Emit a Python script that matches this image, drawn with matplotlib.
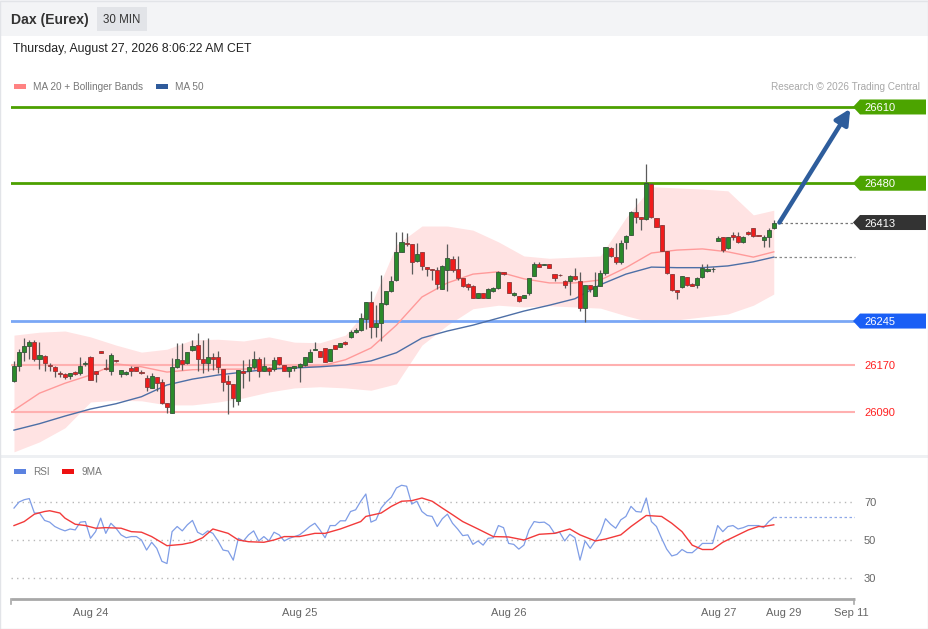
import matplotlib
matplotlib.use('Agg')
import matplotlib.pyplot as plt
from matplotlib.patches import Rectangle, Polygon
from matplotlib.transforms import blended_transform_factory
import numpy as np

plt.rcParams['font.family'] = ['Liberation Sans', 'DejaVu Sans']

# ---------------- data ----------------
opens = [26142, 26169, 26192, 26203, 26210, 26181, 26186, 26170, 26167, 26156,
         26154, 26152, 26158, 26157, 26171, 26184, 26159, 26194, 26165, 26160,
         26179, 26154, 26154, 26165, 26167, 26157, 26148, 26131, 26150, 26141,
         26105, 26089, 26166, 26178, 26173, 26196, 26205, 26180, 26173, 26183,
         26183, 26163, 26142, 26137, 26109, 26160, 26159, 26167, 26181, 26160,
         26165, 26163, 26183, 26170, 26160, 26165, 26166, 26170, 26175, 26196,
         26194, 26199, 26177, 26205, 26201, 26210, 26217, 26227, 26230, 26248,
         26277, 26235, 26241, 26274, 26296, 26315, 26363, 26377, 26376, 26347,
         26362, 26338, 26333, 26332, 26300, 26332, 26351, 26334, 26318, 26308,
         26305, 26285, 26292, 26285, 26296, 26301, 26328, 26311, 26290, 26288,
         26285, 26293, 26322, 26342, 26341, 26342, 26325, 26324, 26314, 26313,
         26321, 26313, 26267, 26306, 26288, 26305, 26327, 26369, 26355, 26346,
         26379, 26392, 26431, 26422, 26419, 26479, 26420, 26409, 26365, 26326,
         26298, 26303, 26320, 26309, 26306, 26320, 26331, 26333, 26382, 26388,
         26369, 26392, 26390, 26379, 26397, 26403, 26392, 26383, 26388, 26403]
highs = [26177, 26197, 26216, 26213, 26212, 26210, 26187, 26173, 26168, 26160,
         26156, 26156, 26159, 26183, 26177, 26186, 26160, 26194, 26180, 26190,
         26179, 26161, 26159, 26169, 26167, 26161, 26153, 26156, 26150, 26147,
         26105, 26182, 26207, 26207, 26192, 26213, 26224, 26213, 26216, 26190,
         26194, 26163, 26153, 26137, 26162, 26179, 26181, 26194, 26183, 26184,
         26167, 26184, 26183, 26170, 26166, 26169, 26173, 26184, 26197, 26209,
         26194, 26199, 26197, 26205, 26208, 26211, 26230, 26233, 26258, 26277,
         26296, 26272, 26324, 26296, 26321, 26397, 26397, 26395, 26377, 26378,
         26362, 26338, 26334, 26338, 26340, 26376, 26356, 26356, 26318, 26310,
         26306, 26293, 26293, 26301, 26303, 26330, 26329, 26311, 26294, 26288,
         26290, 26319, 26345, 26345, 26342, 26343, 26325, 26325, 26315, 26324,
         26335, 26329, 26307, 26306, 26329, 26332, 26371, 26371, 26378, 26383,
         26392, 26432, 26454, 26422, 26513, 26481, 26421, 26409, 26365, 26326,
         26298, 26322, 26320, 26310, 26320, 26342, 26343, 26337, 26390, 26388,
         26389, 26397, 26396, 26390, 26398, 26403, 26392, 26391, 26403, 26418]
lows = [26141, 26159, 26177, 26180, 26177, 26164, 26159, 26159, 26150, 26150,
        26146, 26146, 26153, 26153, 26169, 26144, 26141, 26190, 26162, 26153,
        26175, 26150, 26153, 26152, 26160, 26154, 26126, 26130, 26125, 26103,
        26088, 26088, 26165, 26162, 26171, 26194, 26159, 26156, 26159, 26162,
        26156, 26125, 26086, 26099, 26102, 26130, 26142, 26164, 26150, 26159,
        26153, 26159, 26170, 26159, 26150, 26160, 26141, 26169, 26175, 26196,
        26183, 26175, 26177, 26197, 26200, 26205, 26216, 26224, 26228, 26231,
        26216, 26218, 26211, 26272, 26295, 26314, 26363, 26373, 26325, 26346,
        26332, 26321, 26315, 26300, 26299, 26296, 26329, 26315, 26303, 26298,
        26284, 26284, 26284, 26284, 26295, 26300, 26324, 26292, 26287, 26278,
        26285, 26290, 26322, 26338, 26341, 26335, 26313, 26322, 26302, 26290,
        26315, 26262, 26244, 26295, 26287, 26304, 26324, 26355, 26343, 26343,
        26367, 26391, 26412, 26400, 26417, 26420, 26405, 26364, 26326, 26297,
        26282, 26301, 26305, 26304, 26301, 26318, 26329, 26329, 26382, 26362,
        26368, 26383, 26378, 26378, 26392, 26389, 26390, 26371, 26371, 26402]
closes = [26169, 26193, 26203, 26210, 26180, 26187, 26173, 26169, 26160, 26155,
          26150, 26156, 26154, 26169, 26173, 26145, 26154, 26190, 26164, 26187,
          26177, 26161, 26158, 26160, 26160, 26156, 26133, 26152, 26139, 26106,
          26099, 26167, 26180, 26171, 26192, 26203, 26180, 26173, 26183, 26181,
          26166, 26141, 26137, 26113, 26162, 26156, 26167, 26180, 26160, 26169,
          26160, 26179, 26171, 26160, 26166, 26169, 26171, 26184, 26192, 26197,
          26183, 26175, 26197, 26197, 26207, 26206, 26227, 26230, 26250, 26277,
          26235, 26241, 26275, 26296, 26313, 26362, 26380, 26376, 26345, 26360,
          26339, 26334, 26332, 26309, 26339, 26352, 26332, 26318, 26304, 26303,
          26285, 26292, 26285, 26300, 26301, 26329, 26325, 26293, 26292, 26279,
          26290, 26318, 26342, 26338, 26342, 26335, 26319, 26323, 26306, 26321,
          26317, 26267, 26307, 26299, 26305, 26327, 26371, 26356, 26346, 26378,
          26390, 26431, 26422, 26419, 26481, 26422, 26406, 26365, 26327, 26298,
          26295, 26321, 26307, 26305, 26318, 26335, 26333, 26334, 26386, 26366,
          26388, 26388, 26379, 26389, 26393, 26390, 26390, 26388, 26401, 26413]

# indicator lines read at every 5th bar
ind_idx = [0, 5, 10, 15, 20, 25, 30, 35, 40, 45, 50, 55, 60, 65, 70, 75, 80, 85,
           90, 95, 100, 105, 110, 115, 120, 125, 130, 135, 140, 145, 149]
bb_upper = [26221, 26226, 26228, 26218, 26204, 26192, 26197, 26213, 26214, 26211,
            26218, 26209, 26208, 26221, 26272, 26375, 26407, 26407, 26400, 26380,
            26356, 26352, 26354, 26356, 26421, 26474, 26472, 26470, 26467, 26426, 26434]
bb_lower = [26022, 26039, 26063, 26107, 26110, 26109, 26102, 26102, 26107, 26114,
            26124, 26131, 26133, 26131, 26127, 26138, 26204, 26238, 26266, 26272,
            26269, 26271, 26269, 26267, 26254, 26243, 26247, 26252, 26257, 26272, 26291]
ma20 = [26093, 26122, 26139, 26153, 26172, 26167, 26158, 26162, 26163, 26163,
        26165, 26167, 26168, 26179, 26199, 26238, 26286, 26310, 26325, 26329,
        26317, 26310, 26310, 26315, 26336, 26361, 26366, 26368, 26363, 26354, 26363]
ma50 = [26059, 26070, 26083, 26095, 26104, 26116, 26136, 26146, 26153, 26158,
        26163, 26165, 26167, 26170, 26177, 26191, 26216, 26228, 26238, 26250,
        26262, 26272, 26283, 26307, 26325, 26337, 26336, 26336, 26339, 26346, 26354]

rsi = [66.8, 70.0, 71.2, 71.8, 64.2, 64.2, 60.3, 59.4, 57.1, 55.8,
       54.8, 55.8, 55.3, 59.4, 59.7, 50.9, 54.4, 61.5, 53.5, 58.8,
       56.2, 52.7, 51.2, 51.8, 51.8, 50.0, 44.7, 48.8, 45.6, 38.8,
       37.6, 54.4, 57.1, 54.8, 58.0, 60.3, 54.1, 52.7, 54.8, 53.5,
       49.5, 44.7, 44.2, 39.4, 50.9, 49.5, 52.7, 54.8, 49.5, 51.8,
       49.5, 54.1, 52.7, 49.5, 50.9, 51.8, 52.7, 54.8, 57.1, 58.8,
       55.3, 51.2, 57.6, 57.6, 60.1, 60.1, 65.0, 65.9, 70.4, 74.2,
       59.4, 60.6, 66.8, 70.0, 72.5, 77.4, 78.8, 78.3, 68.9, 70.4,
       65.0, 62.9, 62.4, 57.1, 61.2, 63.6, 58.8, 55.8, 52.3, 52.7,
       47.7, 49.5, 47.3, 50.9, 51.2, 57.6, 56.5, 48.2, 47.7, 45.2,
       47.3, 55.3, 59.7, 59.2, 59.4, 57.6, 53.5, 54.1, 49.5, 53.0,
       51.2, 39.4, 49.5, 45.6, 49.5, 53.5, 61.2, 58.3, 56.2, 60.6,
       62.4, 67.7, 65.0, 64.7, 72.1, 59.7, 57.1, 50.9, 45.2, 41.6,
       42.4, 45.0, 43.4, 43.3, 45.6, 48.2, 48.2, 48.2, 57.6, 54.4,
       57.1, 57.6, 55.8, 56.5, 57.6, 57.6, 57.6, 56.5, 59.7, 61.9]
ma9_idx = [0, 2, 4, 6, 7, 9, 10, 12, 14, 16, 18, 21, 23, 25, 27, 30, 33, 35, 37, 38,
           39, 42, 44, 46, 49, 51, 53, 56, 59, 61, 64, 68, 69, 72, 74, 76, 78, 80,
           82, 84, 86, 88, 91, 94, 97, 100, 103, 106, 109, 111, 114, 116, 119, 121,
           124, 127, 129, 131, 133, 135, 137, 139, 142, 144, 146, 147, 149]
ma9 = [57.6, 59.7, 63.6, 65.0, 65.4, 64.2, 61.5, 58.3, 57.6, 56.2, 56.5, 56.2, 54.4,
       54.1, 51.8, 47.0, 47.7, 48.8, 51.2, 53.5, 55.8, 53.5, 50.0, 49.1, 48.8, 50.0,
       51.8, 51.8, 53.5, 53.5, 55.8, 59.7, 62.4, 64.2, 67.7, 70.4, 70.7, 72.1, 70.4,
       66.8, 63.3, 59.7, 55.8, 51.8, 51.6, 50.0, 53.0, 53.5, 55.8, 52.7, 49.5, 50.5,
       52.7, 57.1, 62.9, 62.4, 58.8, 54.4, 47.3, 45.0, 45.0, 48.8, 52.7, 55.3, 57.1,
       57.1, 58.0]

resistances = [26610, 26480]
supports = [26245]
minor_levels = [26170, 26090]
target = 26610
rsi_levels = [70, 50, 30]
date_pos = [15.1, 56.1, 97.1, 138.1, 151.0, 164.2]
date_labels = ['Aug 24', 'Aug 25', 'Aug 26', 'Aug 27', 'Aug 29', 'Sep 11']

# ---------------- figure ----------------
W, H = 929, 629
fig = plt.figure(figsize=(W / 100, H / 100), dpi=100)
fig.patch.set_facecolor('white')

PX_L, PX_R = 11, 855
XLIM = (-0.588, 164.93)


def fig_rect(top, bottom):
    return [PX_L / W, 1 - bottom / H, (PX_R - PX_L) / W, (bottom - top) / H]


# price panel
ax = fig.add_axes(fig_rect(100, 455))
ax.set_xlim(*XLIM)
ax.set_ylim(26016.6, 26621.9)
ax.axis('off')

ax.fill_between(ind_idx, bb_lower, bb_upper, color='#ffe3e3', lw=0, zorder=1)
ax.plot(ind_idx, ma20, color='#ff9a9a', lw=1.0, zorder=2)
ax.plot(ind_idx, ma50, color='#4d6fa6', lw=1.0, zorder=2)

for lv in resistances:
    ax.axhline(lv, color='#4ca000', lw=2, zorder=1.5)
for lv in supports:
    ax.axhline(lv, color='#7aa7f5', lw=2, zorder=1.5)
for lv in minor_levels:
    ax.axhline(lv, color='#ffb0b0', lw=1.5, zorder=1.5)

x = np.arange(len(closes))
o = np.array(opens); c = np.array(closes)
up = c >= o
ax.vlines(x, lows, highs, color='#5a5a5a', lw=0.9, zorder=3)
body_lo = np.minimum(o, c)
body_h = np.maximum(np.abs(c - o), 1.3)
ax.bar(x[up], body_h[up], bottom=body_lo[up], width=0.8, color='#2b8a2b',
       edgecolor='#35533a', lw=0.6, zorder=4)
ax.bar(x[~up], body_h[~up], bottom=body_lo[~up], width=0.8, color='#f01c1c',
       edgecolor='#8a3a3a', lw=0.6, zorder=4)

last = closes[-1]
ax.plot([150.2, XLIM[1]], [last, last], color='#777777', lw=0.9,
        ls=(0, (2, 2)), zorder=2, clip_on=False)
ax.plot([149, XLIM[1]], [ma50[-1], ma50[-1]], color='#8a8a8a', lw=0.9,
        ls=(0, (2, 2)), zorder=2, clip_on=False)
ax.annotate('', xy=(164.0, target - 3), xytext=(150.1, last),
            arrowprops=dict(arrowstyle='-|>,head_length=0.9,head_width=0.45',
                            color='#2e5d9c', lw=3.2, shrinkA=0, shrinkB=0),
            annotation_clip=False, zorder=6)

# RSI panel
ax2 = fig.add_axes(fig_rect(480, 599))
ax2.set_xlim(*XLIM)
ax2.set_ylim(18.947, 81.579)
ax2.axis('off')
for lv in rsi_levels:
    ax2.axhline(lv, color='#b8b8b8', lw=1, ls=(0, (1, 3)))
ax2.plot(x, rsi, color='#7f9de6', lw=0.9, zorder=3)
ax2.plot(ma9_idx, ma9, color='#f23a3a', lw=1.0, zorder=4)
ax2.plot([149, XLIM[1]], [rsi[-1], rsi[-1]], color='#8fa8e8', lw=0.9,
         ls=(0, (2, 2)), zorder=3)

# overlay (pixel coordinates)
ov = fig.add_axes([0, 0, 1, 1], zorder=10)
ov.set_xlim(0, W)
ov.set_ylim(H, 0)
ov.axis('off')
ov.patch.set_visible(False)


def ypix(axis, val):
    return H - axis.transData.transform((0, val))[1]


ov.add_patch(Rectangle((0, 0), W, 36, fc='#f3f4f6', ec='none'))
ov.add_patch(Rectangle((0, 455), W, 3, fc='#eef0f3', ec='none'))
ov.add_patch(Rectangle((0.5, 0.5), W - 1, H - 1, fill=False, ec='#e2e4e8', lw=1))
ov.text(11, 20, 'Dax (Eurex)', fontsize=10.1, fontweight='bold', color='#333333',
        va='center', ha='left')
ov.add_patch(Rectangle((97, 7), 50, 24, fc='#e2e4e8', ec='none'))
ov.text(122, 20, '30 MIN', fontsize=8.3, color='#333333', va='center', ha='center')
ov.text(13, 49, 'Thursday, August 27, 2026 8:06:22 AM CET', fontsize=8.8,
        color='#222222', va='center', ha='left')

# legends
ov.add_patch(Rectangle((14, 84), 12, 4.5, fc='#ff8282', ec='none'))
ov.text(33, 87, 'MA 20 + Bollinger Bands', fontsize=7.2, color='#777777', va='center')
ov.add_patch(Rectangle((156, 84), 12, 4.5, fc='#2f5b9b', ec='none'))
ov.text(175, 87, 'MA 50', fontsize=7.2, color='#777777', va='center')
ov.text(920, 87, 'Research \u00a9 2026 Trading Central', fontsize=7.2,
        color='#a8a8a8', va='center', ha='right')
ov.add_patch(Rectangle((14, 469), 12, 4.5, fc='#5b82e0', ec='none'))
ov.text(33, 472, 'RSI', fontsize=7.2, color='#777777', va='center')
ov.add_patch(Rectangle((62, 469), 12, 4.5, fc='#ee1111', ec='none'))
ov.text(82, 472, '9MA', fontsize=7.2, color='#777777', va='center')


def tag(val, color):
    y = ypix(ax, val)
    ov.add_patch(Polygon([(853, y), (860, y - 7.5), (926, y - 7.5), (926, y + 7.5),
                          (860, y + 7.5)], closed=True, fc=color, ec='none'))
    ov.text(864, y + 1, f'{val}', fontsize=8, color='white', va='center', ha='left')


for lv in resistances:
    tag(lv, '#4ca400')
tag(last, '#333333')
for lv in supports:
    tag(lv, '#1a5ff5')
for lv in minor_levels:
    ov.text(864, ypix(ax, lv) + 1, f'{lv}', fontsize=8, color='#ff2020',
            va='center', ha='left')

tr_r = blended_transform_factory(ov.transData, ax2.transData)
for lv in rsi_levels:
    ov.text(864, lv - 0.5, f'{lv}', transform=tr_r, fontsize=8, color='#666666',
            va='center', ha='left')

# time axis
ov.plot([PX_L, PX_R], [599, 599], color='#a8a8a8', lw=2, solid_capstyle='butt')
ov.plot([PX_L + 0.5, PX_L + 0.5], [599, 604], color='#a8a8a8', lw=1.2)
ov.plot([PX_R - 0.5, PX_R - 0.5], [599, 604], color='#a8a8a8', lw=1.2)
tr_t = blended_transform_factory(ax2.transData, ov.transData)
for p, lab in zip(date_pos, date_labels):
    ov.text(p, 613, lab, transform=tr_t, fontsize=8, color='#666666',
            va='center', ha='center')

fig.savefig('out.png', dpi=100)
